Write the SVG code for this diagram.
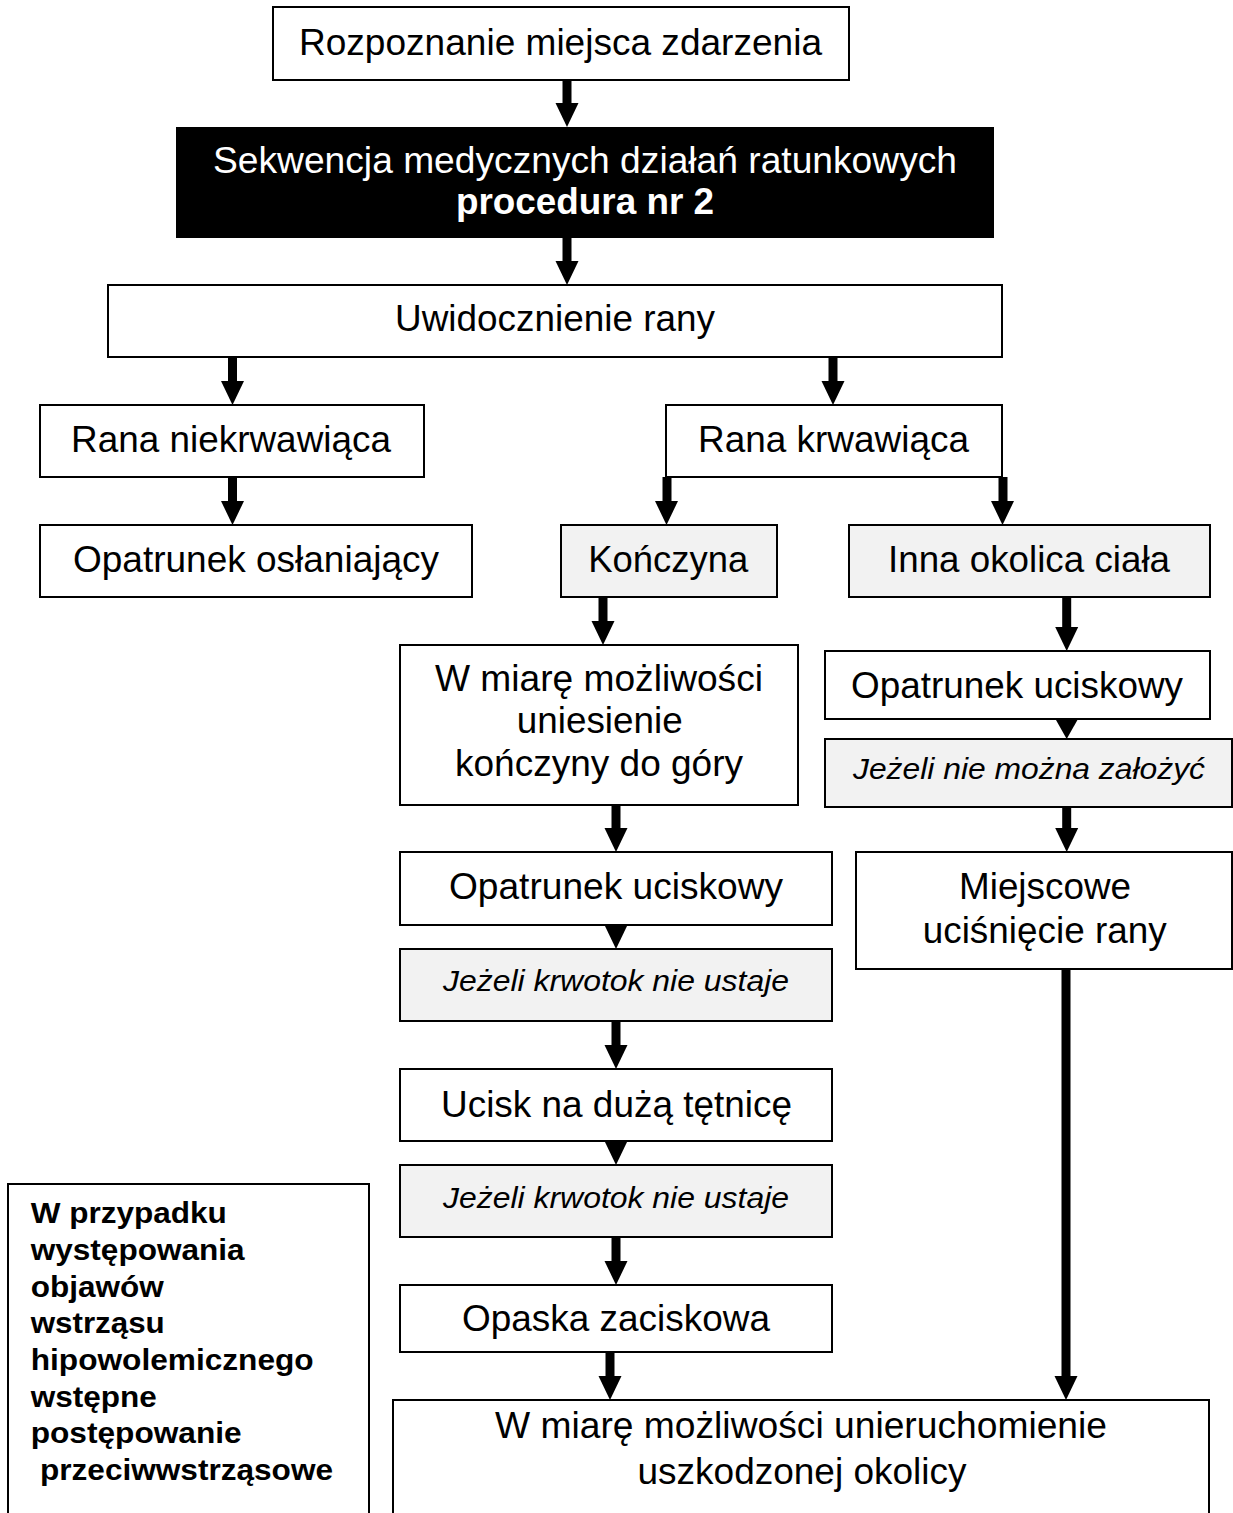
<svg xmlns="http://www.w3.org/2000/svg" xmlns:xlink="http://www.w3.org/1999/xlink" width="1233" height="1513" viewBox="0 0 1233 1513">
<style>
.box{fill:#fff;stroke:#000;stroke-width:2}
.grey{fill:#f2f2f2;stroke:#000;stroke-width:2}
.dark{fill:#000;stroke:none}
text{font-family:"Liberation Sans",Arial,sans-serif;fill:#000}
.t{font-size:36.5px;text-anchor:middle}
.w{fill:#fff}
.b{font-weight:bold}
.i{font-size:30px;font-style:italic;text-anchor:middle}
.n{font-size:30px;font-weight:bold}
.shaft{stroke:#000;stroke-width:9;fill:none}
.head{fill:#000}
</style>
<defs>
<path id="tri" d="M-11.5,0 L11.5,0 L0,24 Z"/>
<path id="tri19" d="M-11,0 L11,0 L0,19.5 Z"/>
</defs>
<rect width="1233" height="1513" fill="#fff"/>

<g id="n1"><rect class="box" x="273" y="7" width="576" height="73"/><text class="t" x="560.5" y="55" textLength="523" lengthAdjust="spacingAndGlyphs">Rozpoznanie miejsca zdarzenia</text></g>
<g id="n2"><rect class="dark" x="176" y="127" width="818" height="111"/><text class="t w" x="585" y="173" textLength="744" lengthAdjust="spacingAndGlyphs">Sekwencja medycznych działań ratunkowych</text><text class="t w b" x="585" y="214" textLength="258" lengthAdjust="spacingAndGlyphs">procedura nr 2</text></g>
<g id="n3"><rect class="box" x="108" y="285" width="894" height="72"/><text class="t" x="555" y="331" textLength="320" lengthAdjust="spacingAndGlyphs">Uwidocznienie rany</text></g>
<g id="n4"><rect class="box" x="40" y="405" width="384" height="72"/><text class="t" x="231" y="452" textLength="320" lengthAdjust="spacingAndGlyphs">Rana niekrwawiąca</text></g>
<g id="n5"><rect class="box" x="40" y="525" width="432" height="72"/><text class="t" x="256" y="572" textLength="366" lengthAdjust="spacingAndGlyphs">Opatrunek osłaniający</text></g>
<g id="n6"><rect class="box" x="666" y="405" width="336" height="72"/><text class="t" x="833.5" y="452" textLength="271" lengthAdjust="spacingAndGlyphs">Rana krwawiąca</text></g>
<g id="n7"><rect class="grey" x="561" y="525" width="216" height="72"/><text class="t" x="668.3" y="572" textLength="160" lengthAdjust="spacingAndGlyphs">Kończyna</text></g>
<g id="n8"><rect class="grey" x="849" y="525" width="361" height="72"/><text class="t" x="1029" y="572" textLength="282" lengthAdjust="spacingAndGlyphs">Inna okolica ciała</text></g>
<g id="n9"><rect class="box" x="400" y="645" width="398" height="160"/><text class="t" x="599" y="691" textLength="328" lengthAdjust="spacingAndGlyphs">W miarę możliwości</text><text class="t" x="599.7" y="733" textLength="166" lengthAdjust="spacingAndGlyphs">uniesienie</text><text class="t" x="599" y="776" textLength="288" lengthAdjust="spacingAndGlyphs">kończyny do góry</text></g>
<g id="n10"><rect class="box" x="400" y="852" width="432" height="73"/><text class="t" x="616" y="899" textLength="334" lengthAdjust="spacingAndGlyphs">Opatrunek uciskowy</text></g>
<g id="n11"><rect class="grey" x="400" y="949" width="432" height="72"/><text class="i" x="616" y="991" textLength="346" lengthAdjust="spacingAndGlyphs">Jeżeli krwotok nie ustaje</text></g>
<g id="n12"><rect class="box" x="400" y="1069" width="432" height="72"/><text class="t" x="616.5" y="1117" textLength="351" lengthAdjust="spacingAndGlyphs">Ucisk na dużą tętnicę</text></g>
<g id="n13"><rect class="grey" x="400" y="1165" width="432" height="72"/><text class="i" x="616" y="1208" textLength="346" lengthAdjust="spacingAndGlyphs">Jeżeli krwotok nie ustaje</text></g>
<g id="n14"><rect class="box" x="400" y="1285" width="432" height="67"/><text class="t" x="616" y="1331" textLength="308" lengthAdjust="spacingAndGlyphs">Opaska zaciskowa</text></g>
<g id="n15"><rect class="box" x="393" y="1400" width="816" height="130"/><text class="t" x="801" y="1438" textLength="612" lengthAdjust="spacingAndGlyphs">W miarę możliwości unieruchomienie</text><text class="t" x="802" y="1484" textLength="329" lengthAdjust="spacingAndGlyphs">uszkodzonej okolicy</text></g>
<g id="n16"><rect class="box" x="825" y="651" width="385" height="68"/><text class="t" x="1017" y="698" textLength="332" lengthAdjust="spacingAndGlyphs">Opatrunek uciskowy</text></g>
<g id="n17"><rect class="grey" x="825" y="739" width="407" height="68"/><text class="i" x="1029" y="779" textLength="352" lengthAdjust="spacingAndGlyphs">Jeżeli nie można założyć</text></g>
<g id="n18"><rect class="box" x="856" y="852" width="376" height="117"/><text class="t" x="1045" y="899" textLength="172" lengthAdjust="spacingAndGlyphs">Miejscowe</text><text class="t" x="1044.7" y="943" textLength="244" lengthAdjust="spacingAndGlyphs">uciśnięcie rany</text></g>
<g id="n19"><rect class="box" x="8" y="1184" width="361" height="346"/>
<text class="n" x="30.7" y="1223" textLength="196" lengthAdjust="spacingAndGlyphs">W przypadku</text>
<text class="n" x="30.7" y="1260" textLength="214" lengthAdjust="spacingAndGlyphs">występowania</text>
<text class="n" x="30.7" y="1296.5" textLength="133" lengthAdjust="spacingAndGlyphs">objawów</text>
<text class="n" x="30.7" y="1333" textLength="134" lengthAdjust="spacingAndGlyphs">wstrząsu</text>
<text class="n" x="30.7" y="1370" textLength="283" lengthAdjust="spacingAndGlyphs">hipowolemicznego</text>
<text class="n" x="30.7" y="1406.5" textLength="126" lengthAdjust="spacingAndGlyphs">wstępne</text>
<text class="n" x="30.7" y="1443" textLength="211" lengthAdjust="spacingAndGlyphs">postępowanie</text>
<text class="n" x="40" y="1480" textLength="293" lengthAdjust="spacingAndGlyphs">przeciwwstrząsowe</text>
</g>

<g id="connectors">
<line class="shaft" x1="567" y1="80" x2="567" y2="104"/><use href="#tri" class="head" x="567" y="103"/>
<line class="shaft" x1="567" y1="238" x2="567" y2="262"/><use href="#tri" class="head" x="567" y="261"/>
<line class="shaft" x1="232.5" y1="357" x2="232.5" y2="382"/><use href="#tri" class="head" x="232.5" y="381"/>
<line class="shaft" x1="833" y1="357" x2="833" y2="382"/><use href="#tri" class="head" x="833" y="381"/>
<line class="shaft" x1="232.5" y1="477" x2="232.5" y2="502"/><use href="#tri" class="head" x="232.5" y="501"/>
<line class="shaft" x1="667" y1="477" x2="667" y2="502"/><use href="#tri" class="head" x="666.5" y="501"/>
<line class="shaft" x1="1003" y1="477" x2="1003" y2="502"/><use href="#tri" class="head" x="1002.5" y="501"/>
<line class="shaft" x1="603" y1="597" x2="603" y2="622"/><use href="#tri" class="head" x="603" y="621"/>
<line class="shaft" x1="616" y1="805" x2="616" y2="829"/><use href="#tri" class="head" x="616" y="828"/>
<use href="#tri" class="head" x="616" y="925"/>
<line class="shaft" x1="616" y1="1021" x2="616" y2="1046"/><use href="#tri" class="head" x="616" y="1045"/>
<use href="#tri" class="head" x="616" y="1141"/>
<line class="shaft" x1="616" y1="1237" x2="616" y2="1262"/><use href="#tri" class="head" x="616" y="1261"/>
<line class="shaft" x1="610" y1="1352" x2="610" y2="1377"/><use href="#tri" class="head" x="610" y="1376"/>
<line class="shaft" x1="1066.7" y1="597" x2="1066.7" y2="628"/><use href="#tri" class="head" x="1066.7" y="627"/>
<use href="#tri19" class="head" x="1066.7" y="719.5"/>
<line class="shaft" x1="1066.7" y1="807" x2="1066.7" y2="829"/><use href="#tri" class="head" x="1066.7" y="828"/>
<line class="shaft" x1="1066" y1="969" x2="1066" y2="1377"/><use href="#tri" class="head" x="1066" y="1376"/>
</g>
</svg>
